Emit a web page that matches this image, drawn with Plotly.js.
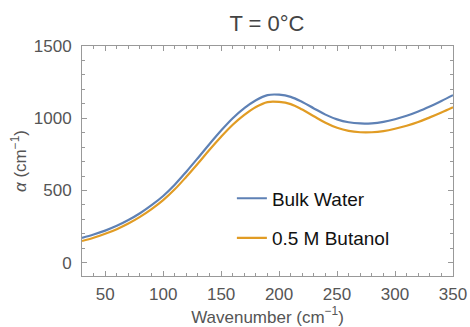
<!DOCTYPE html>
<html><head><meta charset="utf-8">
<script src="https://cdn.plot.ly/plotly-3.0.1.min.js"></script>
<style>body{margin:0;background:#fff}#c{width:470px;height:327px}</style>
</head><body><div id="c"></div>
<script>
const wavenumber = [30,40,50,60,70,80,90,100,110,120,130,140,150,160,170,180,190,200,210,220,230,240,250,260,270,280,290,300,310,320,330,340,350];
const bulkWater = [172,195,222,255,295,342,398,462,540,630,725,822,915,1000,1070,1125,1160,1163,1148,1112,1068,1025,992,972,964,965,975,993,1017,1047,1082,1120,1160];
const butanol = [150,173,200,232,271,317,371,433,508,595,687,782,872,955,1023,1078,1112,1113,1098,1060,1014,969,934,912,903,903,911,927,948,974,1006,1040,1076];
const seriesNames = ["Bulk Water","0.5 M Butanol"];
const xTicks = [50,100,150,200,250,300,350];
const yTicks = [0,500,1000,1500];

const FONT = "Liberation Sans, Arial, sans-serif";
const gray = "#555";
const axisCommon = {
  showgrid:false, zeroline:false, showline:true, linecolor:"#999", linewidth:1, mirror:"ticks",
  ticks:"inside", ticklen:5, tickcolor:"#999", tickwidth:1,
  tickfont:{family:FONT, size:17, color:gray},
};
const traces = [
  {x:wavenumber, y:bulkWater, name:seriesNames[0], mode:"lines", line:{color:"#5E81B5", width:2.2, shape:"spline"}, legendgroup:"a"},
  {x:wavenumber, y:butanol, name:seriesNames[1], mode:"lines", line:{color:"#E19C24", width:2.2, shape:"spline"}, legendgroup:"b"}
];
const layout = {
  width:470, height:327, margin:{l:82, r:17, t:46, b:51},
  paper_bgcolor:"#fff", plot_bgcolor:"#fff",
  title:{text:"T = 0°C", x:267/470, xanchor:"center", y:1-23/327, yanchor:"middle", font:{family:FONT, size:22, color:"#444"}},
  xaxis:Object.assign({}, axisCommon, {range:[30,350], tickvals:xTicks, ticktext:xTicks.map(String),
    ticklabelstandoff:3,
    minor:{dtick:10, tick0:0, ticks:"inside", ticklen:3, tickcolor:"#999"},
    title:{text:"Wavenumber (cm<sup>−1</sup>)", standoff:0, font:{family:FONT, size:17, color:gray}}}),
  yaxis:Object.assign({}, axisCommon, {range:[-92,1500], tickvals:yTicks, ticktext:yTicks.map(String),
    ticklabelstandoff:6,
    minor:{dtick:100, tick0:0, ticks:"inside", ticklen:3, tickcolor:"#999"},
    title:{text:"<i>α</i> (cm<sup>−1</sup>)", standoff:2, font:{family:FONT, size:17, color:gray}}}),
  showlegend:true,
  legend:{x:0.404, y:0.42, xanchor:"left", yanchor:"top", bgcolor:"rgba(0,0,0,0)", tracegroupgap:12,
    font:{family:FONT, size:19, color:"#111"}}
};
Plotly.newPlot("c", traces, layout, {displayModeBar:false, staticPlot:true});
</script></body></html>
